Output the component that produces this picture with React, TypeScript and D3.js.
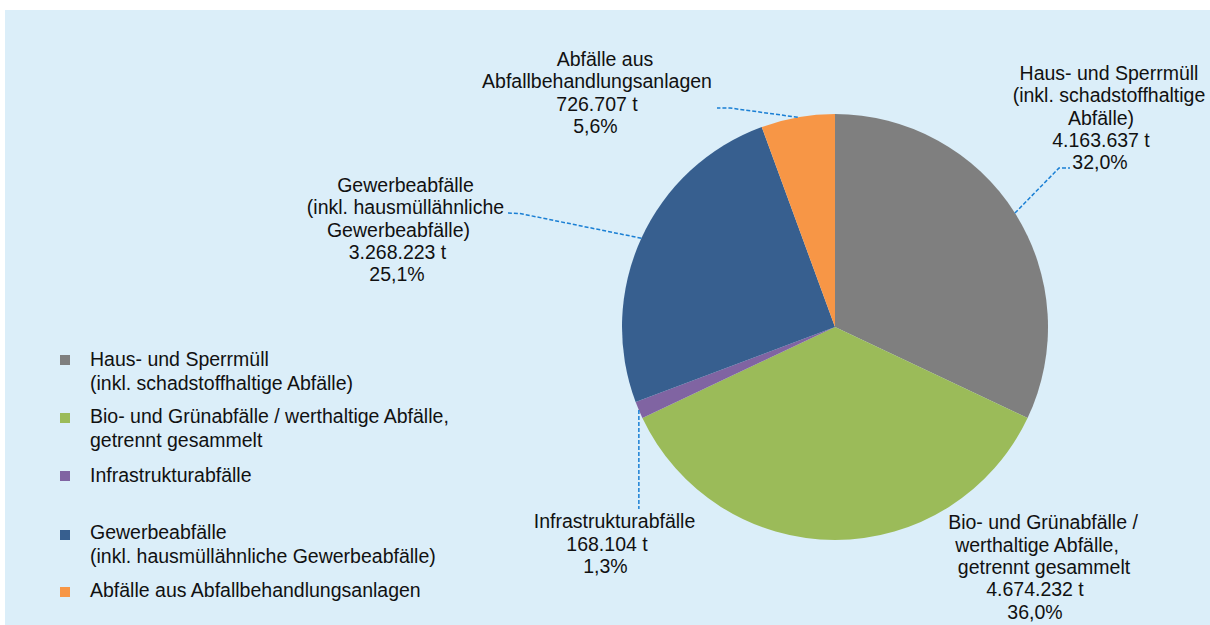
import React from "react";
import * as d3 from "d3";

const categories = [
  "Haus- und Sperrmüll",
  "Bio- und Grünabfälle",
  "Infrastrukturabfälle",
  "Gewerbeabfälle",
  "Abfälle aus Abfallbehandlungsanlagen",
];
const values = [4163637, 4674232, 168104, 3268223, 726707];
const valueLabels = ["4.163.637 t", "4.674.232 t", "168.104 t", "3.268.223 t", "726.707 t"];
const percentLabels = ["32,0%", "36,0%", "1,3%", "25,1%", "5,6%"];
const nameLines = [
  ["Haus- und Sperrmüll", "(inkl. schadstoffhaltige", "Abfälle)"],
  ["Bio- und Grünabfälle /", "werthaltige Abfälle,", "getrennt gesammelt"],
  ["Infrastrukturabfälle"],
  ["Gewerbeabfälle", "(inkl. hausmüllähnliche", "Gewerbeabfälle)"],
  ["Abfälle aus", "Abfallbehandlungsanlagen"],
];
const legendLines = [
  ["Haus- und Sperrmüll", "(inkl. schadstoffhaltige Abfälle)"],
  ["Bio- und Grünabfälle / werthaltige Abfälle,", "getrennt gesammelt"],
  ["Infrastrukturabfälle"],
  ["Gewerbeabfälle", "(inkl. hausmüllähnliche Gewerbeabfälle)"],
  ["Abfälle aus Abfallbehandlungsanlagen"],
];

const colors = ["#7f7f7f", "#9bbb59", "#8064a2", "#375f8f", "#f79646"];

// layout
const W = 1210, H = 625;
const cx = 835, cy = 327, R = 213;
const FONT = 19.5;
const LH = 22.3;
const labelLayout = [
  { xs: [1109, 1109, 1101, 1101, 1100], y0: 80, leader: (p: number[]) => [p, [1059, 168], [1070, 168]] },
  { xs: [1043, 1037, 1044, 1035, 1035], y0: 529.3, leader: null },
  { xs: [614.5, 607, 605.5], y0: 528.3, leader: (p: number[]) => [p, [p[0], 509]] },
  { xs: [405.5, 405.5, 398.5, 397.5, 397], y0: 192, leader: (p: number[]) => [p, [520, 213.5], [508, 213]] },
  { xs: [605, 597, 597, 595.5], y0: 66, leader: (p: number[]) => [p, [730, 108], [717, 108]] },
];
const legendBaselines = [366, 423, 482, 539, 597];
const legendMarkerCenters = [360, 418, 476, 535, 592];

export default function App() {
  const pie = d3.pie<number>().sort(null).value((d) => d)(values);
  const arc = d3.arc<d3.PieArcDatum<number>>().innerRadius(0).outerRadius(R);
  const line = d3.line();

  return (
    <svg
      width={W}
      height={H}
      style={{ position: "absolute", left: 0, top: 0 }}
      fontFamily="'Liberation Sans', Arial, sans-serif"
      fontSize={FONT}
    >
      <rect x={5} y={10} width={W - 5} height={H - 10} fill="#dbeef9" />
      <g transform={`translate(${cx},${cy})`}>
        {pie.map((d, i) => (
          <path key={i} d={arc(d) || ""} fill={colors[i]} />
        ))}
      </g>
      {pie.map((d, i) => {
        const L = labelLayout[i];
        const mid = (d.startAngle + d.endAngle) / 2;
        const p = [cx + R * Math.sin(mid), cy - R * Math.cos(mid)];
        const lines = [...nameLines[i], valueLabels[i], percentLabels[i]];
        return (
          <g key={i}>
            {L.leader && (
              <path
                d={line(L.leader(p) as [number, number][]) || ""}
                fill="none"
                stroke="#1a7fd4"
                strokeWidth={1.5}
                strokeDasharray="4,2"
              />
            )}
            {lines.map((t, j) => (
              <text key={j} x={L.xs[j]} y={L.y0 + j * LH} textAnchor="middle" fill="#111">
                {t}
              </text>
            ))}
          </g>
        );
      })}
      {categories.map((c, i) => (
        <g key={c}>
          <rect x={60} y={legendMarkerCenters[i] - 5} width={10} height={10} fill={colors[i]} />
          {legendLines[i].map((t, j) => (
            <text key={j} x={90} y={legendBaselines[i] + j * 23.5} fill="#111">
              {t}
            </text>
          ))}
        </g>
      ))}
    </svg>
  );
}
